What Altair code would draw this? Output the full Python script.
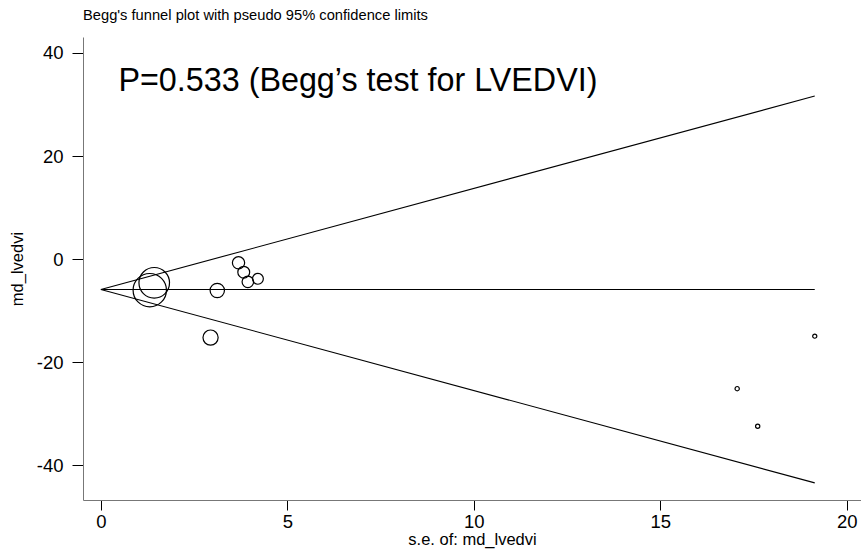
import altair as alt
import pandas as pd

# Study estimates
se_vals = [1.43, 1.31, 3.12, 2.94, 3.69, 3.83, 3.94, 4.21, 19.14, 17.06, 17.61]
md_vals = [-4.57, -6.00, -6.07, -15.2, -0.70, -2.52, -4.38, -3.80, -14.93, -25.1, -32.4]

theta = -5.87          # pooled estimate (centre line)
z95 = 1.96
x_ticks = [0, 5, 10, 15, 20]
y_ticks = [-40, -20, 0, 20, 40]
x_domain = [-0.48, 20.38]
y_domain = [-46.7, 43.1]

annot_text = "P=0.533 (Begg\u2019s test for LVEDVI)"
annot_x = [0.47]
annot_y = [32.6]

pts = pd.DataFrame({"se": se_vals, "md": md_vals})
pts["w"] = 1.0 / pts["se"] ** 2
wmax = pts["w"].max()

se_max = max(se_vals)
lines = pd.DataFrame({
    "se": [0, se_max, 0, se_max, 0, se_max],
    "md": [theta, theta + z95 * se_max, theta, theta - z95 * se_max, theta, theta],
    "grp": ["upper", "upper", "lower", "lower", "mid", "mid"],
})

FONT = "Liberation Sans"

xs = alt.Scale(domain=x_domain, nice=False, zero=False)
ys = alt.Scale(domain=y_domain, nice=False, zero=False)

common = dict(grid=False, labelFontSize=18.5, titleFontSize=16.5, titleFontWeight="normal",
              domainColor="#777777", tickColor="#000000", labelColor="#000000",
              titleColor="#000000", labelFont=FONT, titleFont=FONT, labelFlush=False,
              labelExpr="toString(datum.value)")
xax = alt.Axis(values=x_ticks, title="s.e. of: md_lvedvi", tickSize=10, labelPadding=2,
               titlePadding=1, **common)
yax = alt.Axis(values=y_ticks, title="md_lvedvi", tickSize=11, labelPadding=9,
               titlePadding=11, **common)

line_layer = alt.Chart(lines).mark_line(color="black", strokeWidth=1.1).encode(
    x=alt.X("se:Q", scale=xs, axis=xax),
    y=alt.Y("md:Q", scale=ys, axis=yax),
    detail="grp:N",
)

pt_layer = alt.Chart(pts).mark_point(shape="circle", filled=False, color="black",
                                      strokeWidth=1.2, opacity=1).encode(
    x=alt.X("se:Q", scale=xs),
    y=alt.Y("md:Q", scale=ys),
    size=alt.Size("w:Q", scale=alt.Scale(domain=[0, wmax], range=[12, 1886 * wmax + 12]),
                  legend=None),
)

annot = alt.Chart(pd.DataFrame({"x": annot_x, "y": annot_y, "t": [annot_text]})).mark_text(
    align="left", baseline="alphabetic", fontSize=32.3, font=FONT, color="black"
).encode(x=alt.X("x:Q", scale=xs), y=alt.Y("y:Q", scale=ys), text="t:N")

chart = alt.layer(line_layer, pt_layer, annot).properties(
    width=778, height=463,
    background="white",
    title=alt.TitleParams("Begg's funnel plot with pseudo 95% confidence limits",
                          anchor="start", frame="group", fontSize=14.7, fontWeight="normal",
                          font=FONT, color="black", offset=14),
    autosize=alt.AutoSizeParams(type="none"),
    padding={"left": 83, "top": 37, "right": 0, "bottom": 53},
).configure_view(stroke=None)

chart.save("out.html", embed_options={"renderer": "svg", "actions": False})
